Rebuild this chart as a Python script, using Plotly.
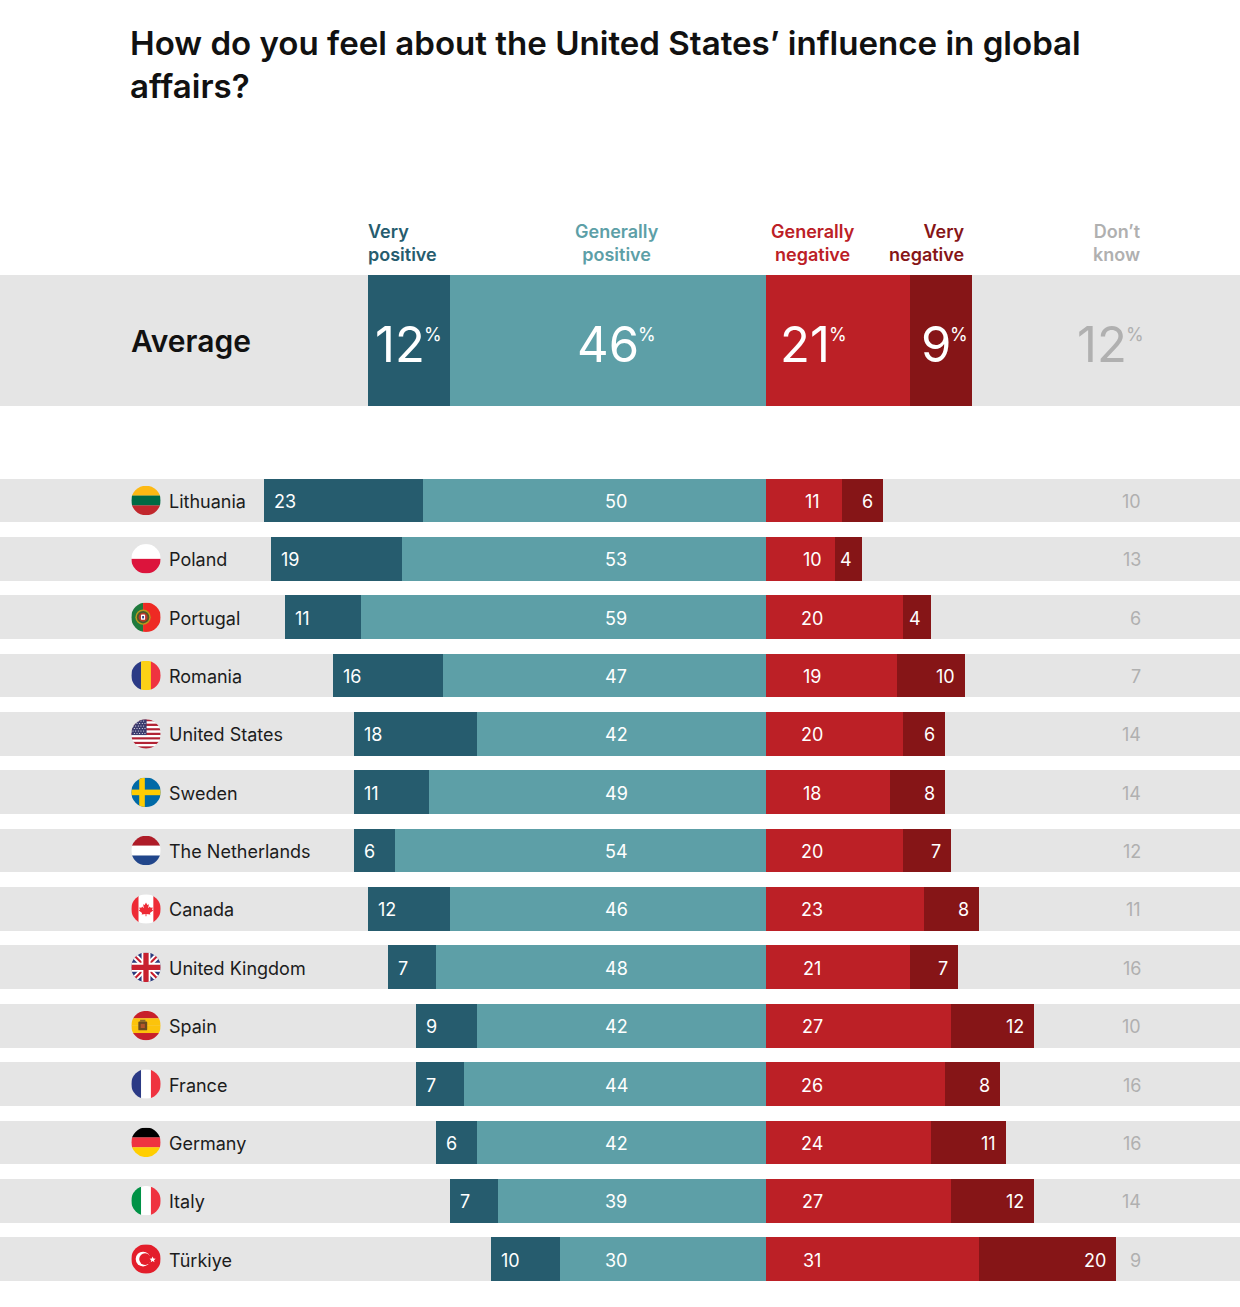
import base64
import plotly.graph_objects as go

# ---- data ----
title_text = "How do you feel about the United States’ influence in global<br>affairs?"
countries = ["Lithuania", "Poland", "Portugal", "Romania", "United States", "Sweden",
             "The Netherlands", "Canada", "United Kingdom", "Spain", "France", "Germany",
             "Italy", "Türkiye"]
very_pos = [23, 19, 11, 16, 18, 11, 6, 12, 7, 9, 7, 6, 7, 10]
gen_pos = [50, 53, 59, 47, 42, 49, 54, 46, 48, 42, 44, 42, 39, 30]
gen_neg = [11, 10, 20, 19, 20, 18, 20, 23, 21, 27, 26, 24, 27, 31]
very_neg = [6, 4, 4, 10, 6, 8, 7, 8, 7, 12, 8, 11, 12, 20]
dont_know = [10, 13, 6, 7, 14, 14, 12, 11, 16, 10, 16, 16, 14, 9]
avg_label = "Average"
avg_values = [12, 46, 21, 9, 12]
headers = ["Very<br>positive", "Generally<br>positive", "Generally<br>negative",
           "Very<br>negative", "Don’t<br>know"]

# ---- style ----
FONT = "Inter"
C_VP, C_GP, C_GN, C_VN = "#265c6e", "#5d9fa7", "#bc2026", "#861517"
C_BG, C_DK, C_TXT = "#e5e5e5", "#b0b0b0", "#1c1c1c"
W, H = 1240, 1307
ZERO_PX, UNIT_PX = 766.0, 6.87
ROW0_PX, ROW_PX = 500.5, 58.35
AVG_PX, AVG_H = 340.5, 131.0
BAR_H = 43.7


def xd(px):
    return (px - ZERO_PX) / UNIT_PX


def yd(px):
    return (px - ROW0_PX) / ROW_PX


rows = list(range(len(countries)))
avg_y = yd(AVG_PX)
ys = [avg_y] + rows
widths = [AVG_H / ROW_PX] + [BAR_H / ROW_PX] * len(rows)
x0, x1 = xd(0), xd(W)

vp = [avg_values[0]] + very_pos
gp = [avg_values[1]] + gen_pos
gn = [avg_values[2]] + gen_neg
vn = [avg_values[3]] + very_neg

fig = go.Figure()


def bar(name, x, base, color):
    fig.add_trace(go.Bar(y=ys, x=x, base=base, width=widths, orientation="h", name=name,
                         marker=dict(color=color, line=dict(width=0)), showlegend=False,
                         hoverinfo="skip" if name == "band" else None))


bar("band", [x1 - x0] * len(ys), [x0] * len(ys), C_BG)
bar("Very positive", vp, [-(a + b) for a, b in zip(vp, gp)], C_VP)
bar("Generally positive", gp, [-b for b in gp], C_GP)
bar("Generally negative", gn, [0] * len(ys), C_GN)
bar("Very negative", vn, gn, C_VN)


def note(x, y, text, size, color, anchor="center", weight=400, xshift=0, yshift=0, align=None):
    fig.add_annotation(x=x, y=y, xref="x", yref="y", text=text, showarrow=False,
                       xanchor=anchor, yanchor="middle", xshift=xshift, yshift=yshift,
                       align=align or anchor,
                       font=dict(family=FONT, size=size, color=color, weight=weight))


# row labels
GP_X, GN_X, DK_X = xd(616), xd(812), xd(1142.5)
for i, name in enumerate(countries):
    note(xd(167), i, name, 18, C_TXT, "left", yshift=-1)
    note(-(very_pos[i] + gen_pos[i]), i, str(very_pos[i]), 18, "#ffffff", "left", xshift=8, yshift=-1)
    note(GP_X, i, str(gen_pos[i]), 18, "#ffffff", yshift=-1)
    note(GN_X, i, str(gen_neg[i]), 18, "#ffffff", yshift=-1)
    note(gen_neg[i] + very_neg[i], i, str(very_neg[i]), 18, "#ffffff", "right", xshift=-8, yshift=-1)
    note(DK_X, i, str(dont_know[i]), 18, C_DK, "right", yshift=-1)

# average row
note(xd(129), avg_y, avg_label, 30, "#111111", "left", 600)
avg_split = [424, 638, 829, 950, 1126]
avg_cols = ["#ffffff", "#ffffff", "#ffffff", "#ffffff", C_DK]
for v, sx, col in zip(avg_values, avg_split, avg_cols):
    note(xd(sx + 3), avg_y, str(v), 49, col, "right", yshift=-4)
    note(xd(sx - 2), avg_y, "%", 18, col, "left", yshift=6)

# column headers
hdr_y = yd(243)
note(xd(366), hdr_y, headers[0], 18, C_VP, "left", 600)
note(xd(616.5), hdr_y, headers[1], 18, C_GP, "center", 600)
note(xd(813), hdr_y, headers[2], 18, C_GN, "center", 600)
note(xd(967), hdr_y, headers[3], 18, C_VN, "right", 600)
note(xd(1143), hdr_y, headers[4], 18, C_DK, "right", 600)


# ---- flags (decorative images) ----
def rects_h(*cols):
    h = 100 / len(cols)
    return "".join(f'<rect y="{i*h}" width="100" height="{h+0.5}" fill="{c}"/>' for i, c in enumerate(cols))


def rects_v(*cols):
    w = 100 / len(cols)
    return "".join(f'<rect x="{i*w}" width="{w+0.5}" height="100" fill="{c}"/>' for i, c in enumerate(cols))


us = rects_h(*["#b22234", "#ffffff"] * 6 + ["#b22234"]) + '<rect width="52" height="54" fill="#3c3b6e"/>' + "".join(
    f'<circle cx="{6+c*9+(r%2)*4.5}" cy="{6+r*8.5}" r="1.8" fill="#fff"/>' for r in range(6) for c in range(5))
uk = ('<rect width="100" height="100" fill="#2b3a7d"/>'
      '<path d="M0 0L100 100M100 0L0 100" stroke="#fff" stroke-width="20"/>'
      '<path d="M0 0L100 100M100 0L0 100" stroke="#c8202f" stroke-width="7"/>'
      '<path d="M50 0V100M0 50H100" stroke="#fff" stroke-width="30"/>'
      '<path d="M50 0V100M0 50H100" stroke="#c8202f" stroke-width="18"/>')
leaf = ('<path fill="#ee2a35" transform="translate(13 13) scale(.74)" d="M50 20L56 32L63 29L60 47L68 39L71 45L81 43L78 54L83 57L68 69L'
        '70 75L52 73V84H48V73L30 75L32 69L17 57L22 54L19 43L29 45L32 39L40 47L37 29L44 32Z"/>')
canada = rects_v("#ee2a35", "#ffffff", "#ffffff", "#ee2a35") + leaf
spain = rects_h("#c8202a", "#fcc30b", "#fcc30b", "#c8202a") + (
    '<rect x="24" y="36" width="30" height="30" rx="3" fill="#6b4a20"/>'
    '<rect x="30" y="30" width="18" height="7" fill="#8a6a30"/>'
    '<rect x="32" y="44" width="14" height="14" fill="#b5562a"/>')
portugal = (
    '<rect width="40" height="100" fill="#1f7a3d"/><rect x="40" width="60" height="100" fill="#ee2a24"/>'
    '<circle cx="40" cy="50" r="26" fill="#b99a1c"/><circle cx="40" cy="50" r="21" fill="#4a5a2a"/>'
    '<circle cx="40" cy="50" r="15" fill="#b9382a"/><rect x="33" y="41" width="14" height="18" rx="3" fill="#ffffff"/>'
    '<rect x="37" y="46" width="6" height="8" fill="#2b3a7d"/>')
sweden = ('<rect width="100" height="100" fill="#006aa7"/><rect x="27" width="19" height="100" fill="#fecc02"/>'
          '<rect y="41" width="100" height="19" fill="#fecc02"/>')
turkey = ('<rect width="100" height="100" fill="#e31e2b"/><circle cx="40" cy="50" r="25" fill="#fff"/>'
          '<circle cx="47" cy="50" r="20" fill="#e31e2b"/>'
          '<path fill="#fff" d="M73 38.5L76.6 47.5L86 47.9L78.7 54L81.1 63L73 58L64.9 63L67.3 54L60 47.9L69.4 47.5Z" transform="translate(14 10.5) scale(.8)"/>')
flags = {
    "Lithuania": rects_h("#fdb913", "#006a44", "#c1272d"),
    "Poland": rects_h("#ffffff", "#dc143c"),
    "Portugal": portugal,
    "Romania": rects_v("#2b3a85", "#fcd116", "#ef3340"),
    "United States": us,
    "Sweden": sweden,
    "The Netherlands": rects_h("#ae1c28", "#ffffff", "#21468b"),
    "Canada": canada,
    "United Kingdom": uk,
    "Spain": spain,
    "France": rects_v("#2b3a85", "#ffffff", "#ef3340"),
    "Germany": rects_h("#000000", "#ef3340", "#ffce00"),
    "Italy": rects_v("#009246", "#ffffff", "#ef3340"),
    "Türkiye": turkey,
}
images = []
for i, name in enumerate(countries):
    svg = ('<svg xmlns="http://www.w3.org/2000/svg" width="120" height="120" viewBox="0 0 100 100">'
           '<defs><clipPath id="c"><circle cx="50" cy="50" r="50"/></clipPath></defs>'
           f'<g clip-path="url(#c)">{flags[name]}</g></svg>')
    uri = "data:image/svg+xml;base64," + base64.b64encode(svg.encode()).decode()
    images.append(dict(source=uri, xref="x", yref="y", x=xd(146), y=i, sizex=29.5 / UNIT_PX,
                       sizey=29.5 / ROW_PX, xanchor="center", yanchor="middle", sizing="stretch",
                       layer="above"))

fig.update_layout(
    width=W, height=H, margin=dict(l=0, r=0, t=0, b=0), autosize=False,
    paper_bgcolor="#ffffff", plot_bgcolor="#ffffff",
    barmode="overlay", bargap=0, showlegend=False, images=images,
    title=dict(text=title_text, x=130 / W, xanchor="left", xref="container", yref="container",
               y=1 - 55 / H, yanchor="top", automargin=False,
               font=dict(family=FONT, size=33.1, color="#111111", weight=600)),
    xaxis=dict(range=[x0, x1], visible=False, fixedrange=True),
    yaxis=dict(range=[yd(H), yd(0)], visible=False, fixedrange=True),
)
fig.write_html("out.html", config=dict(displayModeBar=False, responsive=False),
               post_script="document.body.style.margin='0';document.documentElement.style.overflow='hidden';")
